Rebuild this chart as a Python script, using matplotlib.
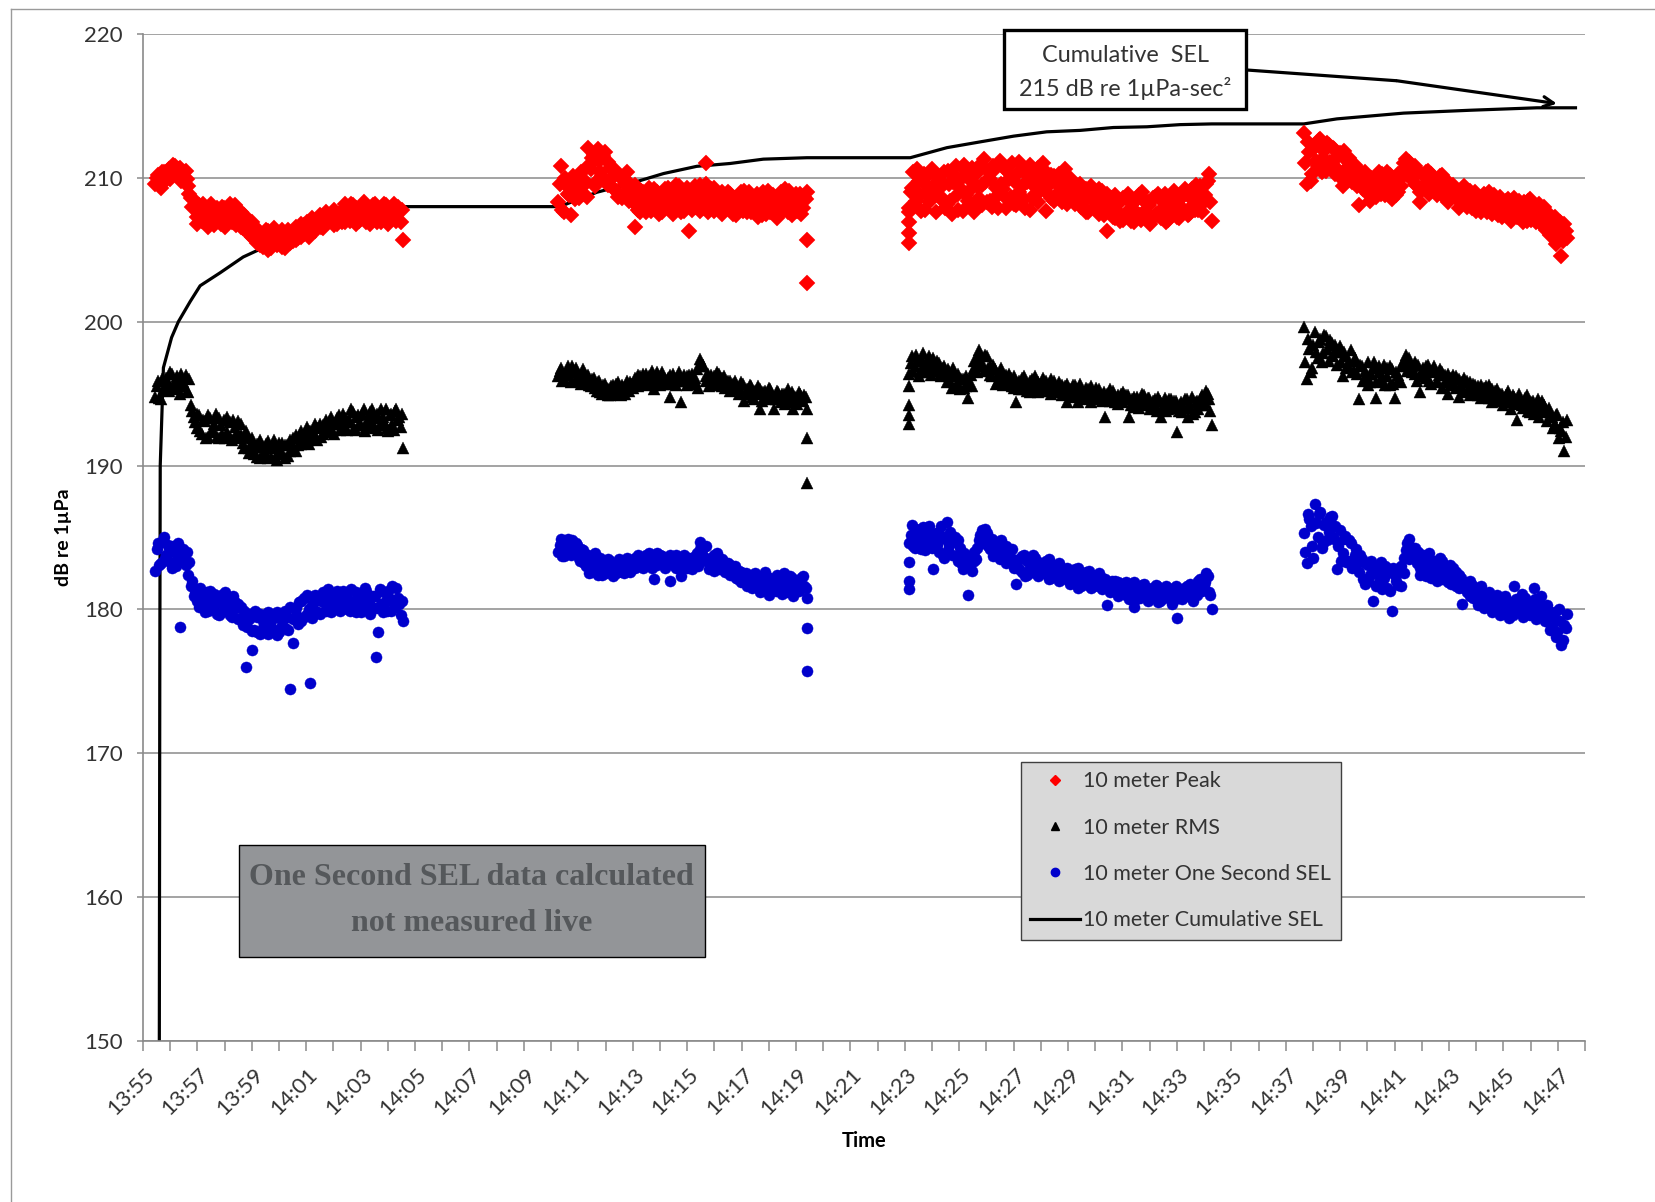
import numpy as np
import matplotlib
matplotlib.use("Agg")
import matplotlib.pyplot as plt
import matplotlib.dates as mdates
from matplotlib.lines import Line2D
from matplotlib.patches import Rectangle
from matplotlib.transforms import ScaledTranslation
from datetime import datetime

plt.rcParams['font.family'] = ['Lato', 'DejaVu Sans']

DAY = "2015-06-01 "

# ---------------- data ----------------
seg_start = ["13:55:27", "14:10:16", "14:23:10", "14:37:40"]
seg_end = ["14:04:34", "14:19:24", "14:34:17", "14:47:20"]

# ---- 10 meter Peak: two passes of readings per segment ----
peak_seg1 = [209.6, 210.2, 209.3, 210.4, 209.9, 210.6, 210.1, 210.8, 210.3, 210.7,
             210.0, 210.5, 209.4, 208.6, 207.9, 207.3, 208.1, 207.0, 207.8, 206.6,
             207.5, 208.0, 207.2, 207.7, 206.8, 207.9, 207.3, 207.6, 206.9, 208.1,
             207.1, 207.6, 206.5, 207.2, 206.1, 206.9, 205.8, 206.4, 205.3, 206.0,
             205.6, 206.3, 205.1, 205.9, 205.4, 206.2, 205.2, 205.8, 206.4, 205.5,
             206.1, 205.7, 206.5, 205.9, 206.7, 206.2, 206.0, 206.9, 206.4, 207.1,
             206.6, 207.3, 206.8, 207.0, 207.5, 206.7, 207.4, 207.1, 207.8, 206.9,
             207.6, 208.2, 207.2, 207.9, 207.0, 208.0, 207.4, 207.7, 206.8, 208.1,
             207.3, 207.8, 206.9, 208.2, 207.5, 207.1, 207.9, 207.3, 208.0, 206.9,
             205.7]
peak_seg1b = [210.0, 209.5, 210.4, 209.8, 210.5, 209.9, 210.9, 210.2, 210.6, 209.8,
              210.4, 209.9, 208.9, 208.0, 208.4, 206.8, 207.6, 208.2, 206.9, 207.4,
              208.2, 206.7, 207.9, 207.0, 208.0, 206.6, 207.5, 208.2, 207.1, 206.7,
              207.8, 206.6, 207.4, 206.3, 207.0, 205.9, 206.6, 205.5, 206.2, 205.2,
              206.4, 205.0, 205.8, 206.5, 205.3, 205.7, 206.4, 205.1, 205.9, 206.2,
              205.6, 206.6, 205.8, 206.8, 206.1, 206.9, 205.9, 207.2, 206.3, 206.7,
              207.4, 206.5, 207.6, 206.9, 207.2, 207.8, 206.8, 207.5, 206.9, 208.2,
              207.2, 207.0, 208.1, 206.8, 207.6, 207.2, 208.3, 206.9, 207.8, 207.4,
              208.2, 206.9, 207.6, 207.4, 208.1, 206.8, 207.7, 208.2, 207.0, 207.6,
              207.8]
peak_seg2 = [208.3, 210.8, 207.6, 209.4, 208.8, 209.9, 208.5, 209.6, 210.3, 208.9,
             209.7, 212.1, 210.6, 211.6, 209.8, 211.2, 210.1, 211.8, 209.5, 210.7,
             209.3, 210.4, 208.7, 210.0, 208.9, 209.8, 208.4, 209.3, 206.6, 208.8,
             207.6, 209.0, 208.1, 208.6, 207.7, 209.2, 208.2, 207.5, 208.9, 208.0,
             209.3, 207.8, 208.7, 208.1, 209.4, 207.6, 208.8, 208.3, 206.3, 209.1,
             208.0, 208.6, 209.5, 207.9, 211.0, 208.4, 209.2, 207.7, 208.9, 208.2,
             207.5, 208.7, 209.0, 207.9, 208.5, 207.4, 208.8, 208.1, 209.1, 207.6,
             208.4, 207.9, 208.7, 207.3, 208.2, 209.0, 207.5, 208.6, 207.9, 208.3,
             207.2, 208.8, 208.0, 209.2, 207.6, 208.4, 207.8, 208.9, 208.1, 207.5,
             208.7, 209.0]
peak_seg2b = [209.6, 207.8, 210.0, 208.9, 207.4, 210.1, 209.2, 208.6, 210.4, 209.5,
              208.7, 210.9, 211.4, 209.4, 212.0, 210.4, 211.5, 209.7, 211.1, 209.9,
              210.6, 209.1, 210.2, 208.6, 209.6, 210.4, 209.0, 208.3, 209.5, 207.8,
              209.1, 208.4, 207.6, 209.3, 208.5, 207.9, 209.0, 208.7, 207.6, 209.2,
              208.4, 209.0, 207.5, 209.5, 208.3, 208.9, 207.7, 209.3, 208.6, 207.8,
              209.4, 208.2, 207.7, 208.8, 209.6, 207.6, 208.4, 209.3, 207.9, 208.6,
              209.0, 207.9, 208.3, 208.9, 207.5, 208.6, 207.9, 209.0, 207.7, 208.5,
              209.0, 207.6, 208.2, 208.9, 207.8, 207.4, 208.5, 209.1, 207.6, 208.8,
              208.5, 207.6, 209.0, 207.8, 208.7, 209.1, 207.4, 208.2, 207.7, 208.9,
              207.9, 208.5]
peak_seg3 = [207.9, 209.3, 208.1, 210.6, 208.8, 209.7, 207.8, 210.2, 208.5, 209.4,
             207.6, 209.9, 208.7, 210.4, 208.2, 209.6, 207.5, 210.1, 208.9, 209.3,
             207.7, 210.5, 208.4, 209.8, 208.0, 210.3, 208.6, 209.5, 211.3, 208.3,
             209.9, 208.0, 210.6, 208.8, 211.2, 209.2, 207.9, 210.4, 208.7, 209.8,
             208.1, 211.1, 209.4, 208.5, 210.2, 207.8, 209.6, 208.9, 210.7, 209.1,
             211.0, 207.7, 209.5, 208.6, 210.1, 208.9, 209.8, 208.3, 210.6, 209.0,
             208.5, 209.7, 208.2, 209.3, 208.0, 209.0, 207.6, 208.7, 209.4, 207.9,
             208.6, 207.5, 209.1, 208.2, 206.3, 208.0, 207.3, 208.8, 207.6, 208.4,
             207.1, 208.7, 207.8, 208.2, 206.9, 208.5, 207.4, 209.0, 207.7, 208.3,
             206.8, 208.6, 207.5, 208.9, 207.2, 208.0, 206.9, 208.4, 207.6, 209.1,
             207.3, 208.5, 207.9, 209.2, 207.4, 208.7, 208.1, 209.5, 207.8, 208.9,
             208.3, 209.6, 210.3, 207.0]
peak_seg3b = [209.0, 210.4, 208.4, 209.8, 207.7, 210.3, 209.1, 208.3, 210.6, 209.2,
              210.2, 208.6, 209.5, 207.9, 210.5, 208.4, 209.7, 210.8, 207.8, 209.9,
              210.9, 208.8, 209.1, 210.7, 207.6, 209.4, 210.9, 208.1, 209.7, 210.5,
              208.4, 210.8, 209.3, 207.9, 209.6, 210.7, 208.6, 209.9, 211.0, 208.2,
              210.3, 209.0, 210.6, 207.9, 209.7, 210.9, 208.5, 210.3, 208.3, 209.9,
              209.4, 210.4, 208.8, 210.2, 208.4, 209.6, 210.3, 208.6, 209.2, 208.2,
              210.0, 208.7, 209.5, 208.4, 209.6, 208.3, 209.2, 207.6, 209.0, 208.4,
              207.8, 209.2, 208.0, 207.4, 208.9, 207.7, 208.6, 207.2, 208.3, 207.0,
              208.6, 207.4, 208.9, 207.0, 208.3, 207.6, 208.8, 207.1, 208.4, 207.3,
              208.1, 207.2, 208.7, 207.4, 208.5, 207.6, 208.9, 207.1, 208.2, 207.5,
              208.8, 207.2, 208.6, 207.7, 208.9, 207.5, 209.2, 207.8, 208.7, 209.4,
              207.6, 208.8, 209.8, 208.3]
peak_seg4 = [213.1, 209.6, 211.8, 210.3, 212.2, 210.8, 212.7, 211.4, 210.5, 212.3,
             211.0, 212.0, 210.6, 211.7, 209.4, 211.3, 210.2, 211.0, 209.8, 210.6,
             208.1, 210.3, 209.5, 210.1, 208.4, 209.8, 209.2, 210.4, 208.9, 209.6,
             209.1, 210.2, 208.5, 209.7, 209.0, 210.0, 210.6, 211.3, 210.5, 209.9,
             210.8, 209.4, 208.3, 210.2, 209.6, 210.5, 209.1, 209.8, 209.3, 210.1,
             208.8, 209.6, 208.3, 209.4, 209.0, 208.6, 207.9, 209.2, 208.5, 209.0,
             208.2, 208.8, 207.7, 208.5, 208.1, 208.9, 207.6, 208.3, 207.9, 208.6,
             207.4, 208.1, 207.7, 208.4, 207.2, 207.9, 208.6, 207.3, 208.0, 206.9,
             207.7, 208.4, 207.1, 207.8, 206.9, 208.2, 207.5, 206.6, 207.3, 206.0,
             207.0, 205.4, 206.5, 204.6, 206.8, 205.8]
peak_seg4b = [211.0, 212.5, 209.8, 212.0, 211.2, 212.6, 210.4, 211.9, 212.4, 211.1,
              212.1, 210.3, 211.5, 210.0, 211.9, 210.6, 211.4, 209.7, 210.9, 209.4,
              210.5, 209.2, 210.4, 208.9, 210.0, 209.4, 208.7, 209.9, 210.3, 208.8,
              210.4, 209.4, 209.9, 208.8, 210.3, 209.4, 211.0, 210.2, 211.1, 210.6,
              209.6, 210.5, 209.0, 209.4, 210.4, 208.9, 210.3, 209.5, 208.8, 209.7,
              210.2, 209.1, 209.7, 208.6, 209.5, 209.2, 208.6, 208.3, 209.4, 208.0,
              209.1, 207.9, 209.0, 208.4, 207.6, 208.7, 208.3, 209.0, 207.5, 208.8,
              208.0, 208.7, 207.3, 207.8, 208.5, 207.0, 208.3, 207.6, 208.4, 207.3,
              208.3, 207.0, 208.5, 207.4, 207.9, 207.2, 206.8, 208.0, 206.4, 207.5,
              206.2, 207.3, 205.9, 206.9, 205.6, 206.3]
peak_extra_t = ["14:19:24", "14:19:24", "14:23:10", "14:23:10", "14:23:10", "14:23:10"]
peak_extra_v = [205.7, 202.7, 205.5, 206.2, 206.9, 207.6]

# ---- 10 meter RMS ----
rms_seg1 = [194.8, 195.9, 194.6, 195.4, 196.1, 195.2, 196.4, 195.6, 196.2, 195.0,
            195.8, 196.3, 195.1, 194.2, 193.4, 192.6, 193.5, 192.2, 193.1, 192.0,
            193.3, 192.5, 193.6, 191.9, 192.8, 193.2, 192.3, 193.0, 191.8, 192.7,
            193.1, 192.1, 191.6, 192.4, 191.2, 191.9, 190.8, 191.5, 190.5, 191.3,
            190.9, 191.7, 190.6, 191.2, 190.4, 191.6, 190.9, 191.4, 190.7, 191.8,
            191.3, 191.0, 192.0, 191.5, 192.2, 191.6, 192.4, 191.9, 192.1, 192.6,
            192.0, 192.8, 192.3, 193.0, 192.4, 192.9, 193.3, 192.5, 193.6, 192.7,
            193.2, 193.9, 192.6, 193.4, 192.9, 193.6, 192.4, 193.1, 193.7, 192.8,
            193.3, 192.5, 193.9, 193.0, 192.6, 193.5, 192.9, 193.8, 193.2, 192.7,
            191.2]
rms_seg1b = [195.5, 194.7, 196.0, 195.3, 195.7, 196.5, 195.4, 196.0, 195.3, 196.4,
             195.5, 195.2, 196.0, 193.8, 193.0, 193.6, 192.4, 193.2, 191.9, 193.5,
             192.3, 192.9, 192.0, 193.3, 192.2, 191.9, 193.4, 192.0, 193.2, 192.2,
             191.9, 192.9, 191.2, 192.0, 190.9, 191.6, 191.3, 190.6, 191.8, 190.8,
             191.5, 190.5, 191.3, 191.8, 190.8, 191.0, 191.6, 190.5, 191.4, 191.0,
             191.9, 192.1, 191.4, 192.4, 191.8, 192.7, 191.5, 192.3, 192.9, 191.8,
             192.9, 192.2, 193.2, 192.6, 193.4, 192.2, 193.0, 193.5, 192.6, 193.3,
             192.5, 193.0, 193.7, 192.5, 193.5, 192.8, 193.9, 192.7, 193.3, 193.9,
             192.6, 193.6, 192.8, 193.4, 193.9, 192.4, 193.6, 192.5, 193.9, 193.4,
             193.6]
rms_seg2 = [196.2, 196.8, 196.0, 196.6, 196.3, 196.9, 195.9, 196.5, 196.1, 196.7,
            195.8, 196.3, 195.5, 196.1, 195.2, 195.9, 195.0, 195.7, 195.3, 194.9,
            195.6, 195.1, 195.8, 194.9, 195.4, 195.9, 195.2, 195.7, 196.1, 195.5,
            196.2, 195.8, 196.4, 195.6, 196.0, 195.3, 196.5, 195.9, 196.3, 195.7,
            196.1, 194.8, 196.4, 195.9, 196.2, 194.4, 196.0, 195.6, 196.3, 195.7,
            196.1, 195.4, 197.4, 196.9, 196.2, 195.5, 196.3, 195.8, 196.5, 195.6,
            196.1, 195.4, 195.9, 195.2, 195.7, 195.5, 195.0, 195.8, 194.5, 195.3,
            195.6, 194.8, 195.2, 195.5, 193.9, 195.1, 194.7, 195.4, 194.9, 193.9,
            195.2, 194.6, 195.0, 194.3, 195.3, 194.8, 193.9, 194.5, 195.1, 194.6,
            194.9, 193.9]
rms_seg2b = [196.6, 195.9, 196.4, 196.9, 195.8, 196.5, 196.8, 196.2, 195.7, 196.4,
             196.2, 195.6, 196.0, 195.4, 195.8, 195.1, 195.6, 195.3, 194.9, 195.5,
             195.0, 195.7, 195.3, 195.6, 195.0, 195.5, 195.8, 195.4, 195.9, 196.3,
             195.7, 196.4, 195.8, 196.2, 196.6, 195.9, 196.1, 195.6, 196.5, 196.0,
             195.7, 196.3, 196.0, 195.6, 196.5, 195.9, 196.3, 196.2, 195.7, 196.4,
             195.9, 196.7, 196.9, 197.0, 195.9, 196.4, 195.6, 196.2, 196.0, 196.4,
             195.5, 196.2, 195.6, 195.9, 195.3, 195.9, 195.4, 195.2, 195.7, 195.0,
             195.2, 195.5, 194.6, 195.0, 195.3, 194.5, 195.2, 194.6, 195.3, 194.8,
             194.6, 195.1, 194.4, 195.0, 194.7, 194.4, 195.1, 194.8, 194.3, 195.0,
             194.5, 194.8]
rms_seg3 = [196.4, 197.6, 196.9, 197.3, 196.5, 197.8, 196.8, 197.2, 196.3, 197.5,
            196.7, 197.1, 196.2, 196.9, 195.8, 196.5, 195.4, 196.2, 195.7, 195.3,
            196.0, 195.5, 194.7, 196.3, 196.8, 197.4, 198.0, 197.1, 196.6, 197.6,
            196.9, 196.2, 196.7, 195.9, 196.5, 195.6, 196.3, 195.8, 196.1, 195.4,
            194.4, 195.9, 195.3, 196.2, 195.6, 195.1, 196.0, 195.5, 195.8, 195.2,
            196.1, 195.4, 195.7, 195.0, 195.9, 195.3, 195.6, 194.9, 195.5, 194.4,
            195.3, 194.8, 195.6, 194.4, 195.2, 194.7, 195.4, 194.9, 194.4, 195.1,
            194.6, 195.3, 194.8, 193.4, 195.0, 194.5, 195.2, 194.7, 194.3, 195.0,
            194.4, 194.9, 193.4, 194.6, 194.1, 194.8, 194.3, 195.0, 194.2, 194.7,
            193.9, 194.5, 194.1, 194.8, 193.4, 194.3, 193.8, 194.6, 194.0, 194.5,
            192.3, 194.2, 193.7, 194.6, 193.4, 194.0, 193.6, 194.4, 193.9, 194.7,
            194.2, 195.2, 194.6, 192.8]
rms_seg3b = [197.1, 196.6, 197.7, 196.2, 197.4, 197.0, 196.5, 197.6, 196.9, 196.6,
             197.3, 196.4, 196.8, 196.4, 196.7, 195.9, 196.8, 195.6, 196.4, 196.0,
             195.4, 196.2, 195.8, 195.5, 197.3, 196.5, 197.6, 196.9, 197.7, 196.8,
             196.3, 197.0, 195.7, 196.4, 196.8, 196.0, 195.7, 196.4, 195.5, 196.2,
             195.7, 195.3, 196.1, 195.8, 195.2, 195.9, 195.4, 196.2, 195.1, 195.7,
             195.5, 195.9, 195.2, 196.0, 195.4, 195.1, 195.8, 195.6, 195.2, 195.7,
             195.0, 195.6, 194.9, 195.3, 195.7, 195.0, 194.6, 195.3, 195.5, 194.7,
             195.4, 194.9, 194.5, 195.1, 194.6, 195.3, 194.9, 194.4, 194.9, 194.5,
             195.1, 194.6, 194.9, 194.2, 194.8, 194.5, 194.0, 194.6, 194.9, 194.3,
             194.7, 194.2, 194.6, 193.8, 194.5, 194.1, 194.7, 193.9, 194.6, 194.1,
             194.5, 193.8, 194.4, 194.0, 194.6, 194.2, 194.8, 193.7, 194.5, 194.2,
             194.9, 194.4, 195.0, 193.8]
rms_seg4 = [199.6, 196.0, 198.1, 196.8, 199.3, 197.5, 198.8, 197.8, 199.0, 197.3,
            198.5, 197.9, 197.0, 198.3, 196.2, 197.6, 196.9, 198.0, 196.6, 197.3,
            194.6, 196.9, 196.1, 197.2, 195.8, 196.8, 194.7, 196.5, 195.9, 197.0,
            196.2, 195.6, 196.7, 194.7, 196.3, 195.8, 196.9, 197.7, 197.1, 196.5,
            197.2, 195.9, 195.1, 196.8, 196.1, 197.0, 195.7, 196.5, 195.9, 196.7,
            195.4, 196.3, 195.0, 196.1, 195.6, 196.2, 194.8, 195.8, 195.2, 195.9,
            194.9, 195.7, 195.1, 195.5, 194.7, 195.4, 194.9, 195.6, 194.4, 195.2,
            194.6, 195.0, 194.2, 194.9, 194.5, 193.9, 194.8, 193.2, 194.6, 194.0,
            194.7, 193.8, 194.4, 193.6, 194.3, 193.4, 194.5, 193.9, 193.1, 193.7,
            192.6, 193.5, 191.9, 192.4, 191.0, 193.2]
rms_seg4b = [197.2, 198.8, 196.5, 198.4, 197.9, 198.6, 197.2, 199.1, 198.1, 198.7,
             197.6, 198.4, 198.0, 197.2, 197.9, 196.8, 197.3, 196.5, 197.5, 196.4,
             197.0, 195.9, 196.6, 195.6, 196.4, 197.2, 195.8, 196.9, 196.2, 195.6,
             196.8, 196.9, 195.7, 196.5, 195.9, 196.9, 197.3, 196.6, 197.5, 196.9,
             196.4, 197.0, 196.2, 196.3, 196.9, 195.9, 196.6, 196.9, 195.8, 196.3,
             196.5, 195.8, 196.4, 195.6, 196.3, 195.4, 196.0, 195.5, 196.1, 195.1,
             195.8, 195.2, 195.6, 194.9, 195.6, 195.0, 195.5, 194.7, 195.3, 194.8,
             195.3, 194.5, 195.0, 194.7, 195.2, 194.4, 194.9, 194.3, 195.0, 194.2,
             194.3, 194.9, 193.7, 194.5, 193.9, 194.6, 193.8, 194.2, 193.7, 194.0,
             193.4, 192.9, 193.6, 192.6, 193.0, 192.0]
rms_extra_t = ["14:19:24", "14:19:24", "14:23:10", "14:23:10", "14:23:10", "14:23:10"]
rms_extra_v = [191.9, 188.8, 192.9, 193.5, 194.2, 195.5]

# ---- 10 meter One Second SEL ----
sel_seg1 = [182.7, 184.6, 183.2, 185.0, 183.8, 184.3, 182.9, 184.0, 183.5, 178.8,
            184.2, 183.1, 182.4, 181.6, 180.9, 181.4, 180.2, 181.1, 179.8, 180.7,
            181.3, 180.0, 180.9, 179.6, 181.0, 180.4, 179.9, 180.8, 179.5, 180.5,
            179.3, 180.2, 178.9, 176.0, 179.7, 177.2, 178.6, 179.5, 178.3, 179.2,
            178.5, 179.8, 178.8, 179.4, 178.2, 179.6, 178.9, 179.9, 178.6, 174.5,
            177.7, 179.6, 180.5, 179.2, 180.8, 179.7, 174.9, 180.3, 181.0, 179.8,
            180.6, 181.2, 179.9, 180.7, 180.2, 181.1, 180.4, 179.9, 181.3, 180.5,
            180.0, 181.4, 180.6, 179.8, 181.0, 180.3, 181.5, 180.1, 179.7, 180.9,
            176.7, 178.4, 180.4, 181.2, 179.9, 180.7, 181.6, 180.2, 180.8, 179.6,
            179.2]
sel_seg1b = [184.2, 183.1, 184.7, 183.6, 184.5, 183.3, 184.4, 183.0, 184.6, 183.7,
             183.4, 184.0, 183.3, 182.0, 181.3, 180.6, 181.5, 180.4, 181.2, 179.9,
             180.6, 181.1, 179.7, 180.5, 179.8, 181.2, 180.2, 179.6, 180.9, 180.1,
             180.4, 179.4, 179.9, 178.8, 179.3, 178.5, 179.9, 178.4, 179.7, 178.7,
             179.5, 178.3, 179.3, 178.6, 179.8, 178.4, 179.4, 178.7, 179.5, 180.2,
             179.3, 180.1, 179.0, 180.6, 179.5, 181.0, 180.0, 179.4, 180.6, 180.9,
             179.7, 180.9, 180.3, 181.4, 179.8, 180.5, 181.3, 180.7, 180.0, 181.1,
             180.8, 179.9, 180.5, 181.2, 180.4, 179.8, 180.7, 181.3, 180.6, 180.2,
             180.9, 180.1, 181.4, 179.8, 180.6, 181.3, 179.9, 180.5, 181.5, 180.4,
             180.6]
sel_seg2 = [184.0, 184.9, 183.7, 184.6, 184.2, 184.8, 183.9, 184.5, 183.4, 184.1,
            183.0, 183.8, 182.6, 183.5, 182.8, 183.3, 182.4, 183.1, 182.7, 183.4,
            182.3, 183.0, 182.6, 183.3, 182.5, 182.9, 183.4, 182.8, 183.6, 183.0,
            183.5, 182.9, 183.8, 183.2, 183.6, 182.1, 183.9, 183.3, 183.7, 183.1,
            183.6, 182.0, 183.4, 183.8, 183.0, 182.3, 183.5, 182.9, 183.6, 183.2,
            183.7, 183.0, 184.7, 184.3, 183.4, 182.8, 183.6, 182.7, 183.9, 183.1,
            183.5, 182.6, 183.2, 182.4, 182.9, 182.2, 182.7, 181.9, 182.4, 181.6,
            182.2, 181.5, 182.5, 181.8, 181.2, 182.3, 181.7, 181.0, 182.1, 181.4,
            182.4, 181.6, 181.1, 182.0, 181.5, 182.3, 180.9, 181.8, 181.3, 182.2,
            181.6, 180.8]
sel_seg2b = [184.5, 183.7, 184.3, 184.9, 183.8, 184.2, 184.6, 183.6, 184.2, 183.2,
             183.7, 182.5, 183.2, 183.9, 182.4, 183.6, 183.0, 182.5, 183.5, 182.9,
             183.1, 182.5, 183.5, 182.7, 183.2, 183.6, 182.6, 183.3, 182.9, 183.8,
             183.2, 183.6, 183.1, 183.9, 182.9, 183.4, 183.1, 183.8, 183.4, 182.9,
             183.4, 183.8, 183.1, 182.9, 183.6, 183.3, 183.8, 183.1, 183.5, 182.8,
             183.3, 183.9, 184.2, 183.7, 184.4, 183.5, 183.0, 183.8, 183.3, 182.8,
             182.9, 183.3, 182.7, 183.1, 182.5, 183.0, 182.1, 182.6, 181.9, 182.5,
             181.8, 182.4, 181.6, 182.2, 181.9, 181.3, 182.6, 181.5, 182.2, 181.8,
             181.3, 182.0, 181.7, 182.5, 181.2, 181.8, 182.2, 181.4, 182.0, 181.6,
             182.3, 181.5]
sel_seg3 = [184.6, 185.9, 184.3, 185.5, 184.8, 185.7, 184.1, 185.2, 184.7, 182.8,
            185.3, 184.0, 185.8, 183.6, 186.1, 184.5, 183.8, 185.0, 183.4, 184.3,
            182.8, 183.6, 181.0, 183.2, 184.0, 183.5, 184.8, 185.5, 184.6, 185.3,
            184.2, 184.9, 183.8, 184.6, 183.5, 184.3, 183.2, 184.0, 183.6, 182.9,
            181.8, 183.5, 182.6, 183.8, 182.4, 183.2, 182.8, 183.6, 182.3, 183.0,
            182.5, 183.4, 182.1, 182.9, 182.4, 183.1, 182.0, 182.7, 182.3, 182.9,
            181.8, 182.6, 182.2, 182.9, 181.6, 182.4, 182.0, 182.7, 181.5, 182.3,
            181.9, 182.5, 181.4, 182.1, 180.3, 181.8, 181.3, 182.0, 180.9, 181.6,
            181.2, 181.9, 180.7, 181.5, 180.2, 181.3, 180.8, 181.7, 181.1, 180.6,
            181.4, 180.9, 181.7, 180.5, 181.2, 180.8, 181.6, 181.0, 180.4, 181.3,
            179.4, 181.1, 180.7, 181.5, 180.9, 181.8, 180.6, 181.2, 182.0, 181.4,
            181.7, 182.5, 181.2, 180.0]
sel_seg3b = [185.2, 184.4, 185.6, 184.9, 184.2, 185.4, 184.6, 185.8, 184.3, 185.0,
             184.5, 185.2, 183.8, 184.9, 184.1, 185.4, 184.7, 183.7, 184.8, 183.2,
             183.9, 183.0, 183.7, 182.7, 183.4, 184.3, 185.2, 184.7, 185.6, 184.4,
             184.8, 183.7, 184.5, 183.9, 184.8, 183.7, 184.4, 183.4, 184.2, 183.3,
             183.4, 182.8, 183.7, 182.3, 183.4, 182.9, 183.8, 182.5, 183.3, 182.7,
             183.2, 182.6, 183.5, 182.2, 183.0, 182.5, 183.2, 182.1, 182.8, 182.4,
             182.6, 182.0, 182.8, 181.5, 182.5, 181.9, 182.6, 181.7, 182.4, 181.6,
             182.3, 181.6, 182.2, 181.7, 181.9, 181.2, 182.0, 181.5, 181.9, 181.2,
             181.8, 181.0, 181.6, 181.1, 181.9, 180.7, 181.5, 181.0, 181.8, 180.9,
             180.7, 181.5, 180.8, 181.6, 180.6, 181.3, 180.9, 181.5, 181.1, 180.6,
             181.6, 180.8, 181.4, 181.0, 181.6, 180.9, 181.5, 181.7, 181.0, 182.1,
             181.3, 181.9, 182.3, 181.0]
sel_seg4 = [185.3, 183.2, 186.3, 184.4, 187.3, 185.0, 186.8, 184.6, 186.1, 185.4,
            186.5, 184.9, 182.8, 185.5, 183.9, 185.1, 183.4, 184.6, 183.0, 184.2,
            182.6, 183.5, 181.8, 183.1, 182.4, 180.6, 182.9, 181.9, 183.3, 182.2,
            181.5, 182.8, 179.9, 182.4, 181.7, 183.0, 182.5, 184.1, 184.9, 183.7,
            184.3, 183.2, 182.4, 183.8, 182.9, 183.5, 182.2, 183.4, 182.7, 183.6,
            182.1, 183.0, 182.5, 181.8, 182.9, 181.6, 182.4, 180.4, 181.9, 181.2,
            182.0, 180.8, 181.5, 180.5, 181.3, 180.1, 181.0, 180.6, 179.8, 180.9,
            180.3, 179.6, 180.7, 180.1, 179.4, 180.5, 181.6, 179.9, 180.3, 179.5,
            180.8, 179.7, 180.4, 181.5, 179.3, 180.6, 180.0, 179.2, 180.3, 178.6,
            179.5, 178.1, 180.0, 177.5, 178.9, 179.7]
sel_seg4b = [184.0, 186.6, 185.8, 183.6, 186.0, 186.6, 184.3, 185.9, 184.8, 186.4,
             185.0, 185.8, 184.4, 183.4, 184.9, 183.3, 184.8, 182.9, 183.8, 183.2,
             183.8, 182.1, 183.2, 182.0, 183.4, 182.5, 181.6, 182.6, 181.4, 183.0,
             182.5, 181.3, 182.9, 182.0, 182.7, 181.6, 183.6, 184.6, 183.5, 184.3,
             183.6, 184.0, 182.9, 183.5, 182.3, 183.9, 182.6, 183.2, 182.0, 182.9,
             183.4, 182.3, 181.9, 183.1, 182.1, 182.6, 181.5, 182.2, 181.5, 181.8,
             180.9, 181.7, 181.1, 180.3, 181.6, 180.8, 180.4, 181.2, 180.6, 180.3,
             181.0, 180.6, 179.7, 180.9, 180.3, 180.1, 179.6, 180.7, 179.9, 181.1,
             180.0, 180.6, 179.6, 180.2, 180.7, 179.8, 180.9, 180.2, 179.4, 179.9,
             178.8, 179.8, 178.4, 179.2, 177.9, 178.7]
sel_extra_t = ["14:19:24", "14:19:24", "14:23:10", "14:23:10", "14:23:10"]
sel_extra_v = [178.7, 175.7, 181.4, 182.0, 183.3]

# ---- 10 meter Cumulative SEL ----
cum_t = ["13:55:36", "13:55:37", "13:55:38", "13:55:45", "13:56:03", "13:56:18",
         "13:56:44", "13:57:06", "13:57:50", "13:58:41", "14:00:17", "14:02:00",
         "14:03:20", "14:04:34", "14:10:16", "14:10:27", "14:11:41", "14:12:54",
         "14:14:08", "14:15:21", "14:16:35", "14:17:48", "14:19:24", "14:23:12",
         "14:24:33", "14:25:46", "14:27:00", "14:28:13", "14:29:27", "14:30:40",
         "14:31:54", "14:33:07", "14:34:17", "14:37:40", "14:38:53", "14:41:20",
         "14:43:47", "14:46:14", "14:47:39"]
cum_v = [150.0, 175.0, 190.0, 196.8, 198.9, 200.0,
         201.4, 202.5, 203.4, 204.5, 205.9, 207.0,
         207.6, 208.0, 208.0, 208.1, 209.0, 209.6,
         210.3, 210.8, 211.0, 211.3, 211.4, 211.4,
         212.1, 212.5, 212.9, 213.2, 213.3, 213.5,
         213.55, 213.7, 213.75, 213.75, 214.1, 214.5,
         214.7, 214.87, 214.87]

labels = ["10 meter Peak", "10 meter RMS", "10 meter One Second SEL", "10 meter Cumulative SEL"]
y_ticks = [150, 160, 170, 180, 190, 200, 210, 220]
x_start, x_end = "13:55:00", "14:48:00"


# ---------------- helpers ----------------
def tnum(s):
    return mdates.date2num(datetime.strptime(DAY + s, "%Y-%m-%d %H:%M:%S"))


SEC = 1.0 / 86400.0


def build(passes_a, passes_b, extra_t, extra_v):
    xs, ys = [], []
    for s, e, va, vb in zip(seg_start, seg_end, passes_a, passes_b):
        t0, t1 = tnum(s), tnum(e)
        xs.append(np.linspace(t0, t1, len(va)))
        ys.append(np.asarray(va, dtype=float))
        xs.append(np.linspace(t0 + 3 * SEC, t1 - 3 * SEC, len(vb)))
        ys.append(np.asarray(vb, dtype=float))
    xs.append(np.array([tnum(t) for t in extra_t]))
    ys.append(np.asarray(extra_v, dtype=float))
    return np.concatenate(xs), np.concatenate(ys)


px_x, py_x = build([peak_seg1, peak_seg2, peak_seg3, peak_seg4],
                   [peak_seg1b, peak_seg2b, peak_seg3b, peak_seg4b], peak_extra_t, peak_extra_v)
rx, ry = build([rms_seg1, rms_seg2, rms_seg3, rms_seg4],
               [rms_seg1b, rms_seg2b, rms_seg3b, rms_seg4b], rms_extra_t, rms_extra_v)
sx, sy = build([sel_seg1, sel_seg2, sel_seg3, sel_seg4],
               [sel_seg1b, sel_seg2b, sel_seg3b, sel_seg4b], sel_extra_t, sel_extra_v)
cx = np.array([tnum(t) for t in cum_t])
cy = np.array(cum_v)

W, H = 1656, 1202
fig = plt.figure(figsize=(W / 100, H / 100), dpi=100)
fig.patch.set_facecolor("white")
L, R, T, B = 143, 1585, 34, 1041
ax = fig.add_axes([L / W, 1 - B / H, (R - L) / W, (B - T) / H])

GRID = "#8a8a8a"
TXT = "#333333"
RED = "#FF0000"
BLUE = "#0000CC"

ax.plot(cx, cy, color="black", lw=2.3, zorder=2.5, solid_joinstyle="round")
ax.plot(px_x, py_x, ls="none", marker="D", ms=8.0, color=RED, mec=RED, mew=0.3, zorder=3)
ax.plot(rx, ry, ls="none", marker="^", ms=8.8, color="black", mec="black", mew=0.3, zorder=3)
ax.plot(sx, sy, ls="none", marker="o", ms=8.0, color=BLUE, mec=BLUE, mew=0.3, zorder=3)

ax.set_xlim(tnum(x_start), tnum(x_end))
ax.set_ylim(150, 220)
ax.set_yticks(y_ticks)
ax.xaxis.set_major_locator(mdates.MinuteLocator(byminute=range(1, 60, 2)))
ax.xaxis.set_minor_locator(mdates.MinuteLocator())
ax.xaxis.set_major_formatter(mdates.DateFormatter("%H:%M"))

for sp in ["top", "right"]:
    ax.spines[sp].set_visible(False)
for sp in ["left", "bottom"]:
    ax.spines[sp].set_color(GRID)
    ax.spines[sp].set_linewidth(1.2)
ax.grid(axis="y", color=GRID, lw=1.1, zorder=0)
ax.set_axisbelow(True)

ax.tick_params(axis="y", which="major", length=4.5, width=1.1, color=GRID,
               labelsize=16, labelcolor=TXT, pad=10)
ax.tick_params(axis="x", which="both", length=7, width=1.1, color=GRID, direction="out")
ax.tick_params(axis="x", which="major", labelsize=16, labelcolor=TXT, pad=15)
off = ScaledTranslation(6 / 72, 0, fig.dpi_scale_trans)
for lab in ax.get_xticklabels():
    lab.set_rotation(45)
    lab.set_ha("right")
    lab.set_va("center")
    lab.set_rotation_mode("anchor")
    lab.set_transform(lab.get_transform() + off)

# axis titles
fig.text(864 / W, 1 - 1141 / H, "Time", ha="center", va="center",
         fontsize=14.5, fontweight="bold", color="black")
fig.text(64 / W, 1 - 537 / H, "dB re 1µPa", ha="center", va="center", rotation=90,
         fontsize=14, fontweight="bold", color="black")

# legend
handles = [Line2D([], [], ls="none", marker="D", ms=5.0, color=RED),
           Line2D([], [], ls="none", marker="^", ms=6.0, color="black"),
           Line2D([], [], ls="none", marker="o", ms=6.0, color=BLUE),
           Line2D([], [], color="black", lw=2.3)]
leg = ax.legend(handles, labels, loc="center", bbox_to_anchor=(0.7195, 0.189),
                fontsize=15.5, frameon=True, fancybox=False, framealpha=1,
                facecolor="#D9D9D9", edgecolor="#404040", handlelength=2.3,
                handletextpad=0.15, labelspacing=1.22, borderpad=0.45, borderaxespad=0)
leg.get_frame().set_linewidth(1.0)
for t in leg.get_texts():
    t.set_color(TXT)
leg.set_zorder(6)

# annotation box with arrow
ax.add_patch(Rectangle((0.597, 0.9255), 0.168, 0.0785, transform=ax.transAxes,
                       facecolor="white", edgecolor="black", lw=2.4, clip_on=False, zorder=7))
ax.text(0.681, 0.979, "Cumulative  SEL", transform=ax.transAxes, ha="center", va="center",
        fontsize=16.8, color=TXT, zorder=8)
ax.text(0.681, 0.946, "215 dB re 1µPa-sec²", transform=ax.transAxes, ha="center", va="center",
        fontsize=16.8, color=TXT, zorder=8)
ax.plot([tnum("14:35:33"), tnum("14:41:05")], [217.5, 216.75], color="black", lw=2.3,
        clip_on=False, zorder=7, solid_capstyle="butt")
ax.annotate("", xy=(tnum("14:46:58"), 215.16), xytext=(tnum("14:41:05"), 216.75),
            arrowprops=dict(arrowstyle="->", lw=2.3, color="black", mutation_scale=18,
                            shrinkA=0, shrinkB=0), zorder=7, annotation_clip=False)

# grey note box
ax.add_patch(Rectangle((0.0666, 0.0834), 0.3231, 0.1112, transform=ax.transAxes,
                       facecolor="#939598", edgecolor="black", lw=1.0, zorder=6))
ax.text(0.228, 0.162, "One Second SEL data calculated", transform=ax.transAxes,
        ha="center", va="center", fontsize=23, fontweight="bold", color="#55585B",
        family=["Liberation Serif", "DejaVu Serif"], zorder=7)
ax.text(0.228, 0.117, "not measured live", transform=ax.transAxes,
        ha="center", va="center", fontsize=23, fontweight="bold", color="#55585B",
        family=["Liberation Serif", "DejaVu Serif"], zorder=7)

# outer chart border (left and top edges visible)
fig.add_artist(Line2D([10.5 / W, 10.5 / W], [0, 1 - 8.5 / H], transform=fig.transFigure,
                      color="#9a9a9a", lw=1.0))
fig.add_artist(Line2D([10.5 / W, 1], [1 - 8.5 / H, 1 - 8.5 / H], transform=fig.transFigure,
                      color="#9a9a9a", lw=1.0))

fig.savefig("out.png", dpi=100, facecolor="white")
